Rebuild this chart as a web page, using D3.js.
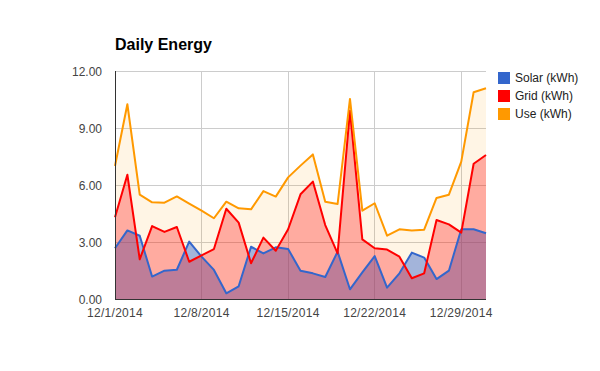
<!DOCTYPE html>
<html><head><meta charset="utf-8">
<script src="https://cdn.jsdelivr.net/npm/d3@7"></script>
<style>body{margin:0;background:#fff}svg{display:block}text{font-family:"Liberation Sans",Arial,sans-serif}</style>
</head><body><svg id="c" width="600" height="371"></svg>
<script>
const dates = ["2014-12-01","2014-12-02","2014-12-03","2014-12-04","2014-12-05","2014-12-06","2014-12-07","2014-12-08","2014-12-09","2014-12-10","2014-12-11","2014-12-12","2014-12-13","2014-12-14","2014-12-15","2014-12-16","2014-12-17","2014-12-18","2014-12-19","2014-12-20","2014-12-21","2014-12-22","2014-12-23","2014-12-24","2014-12-25","2014-12-26","2014-12-27","2014-12-28","2014-12-29","2014-12-30","2014-12-31"];
const solar = [2.67,3.61,3.33,1.18,1.49,1.54,3.02,2.23,1.53,0.30,0.67,2.75,2.40,2.72,2.63,1.49,1.35,1.16,2.49,0.51,1.40,2.26,0.60,1.35,2.44,2.18,1.05,1.49,3.67,3.67,3.46];
const grid  = [4.30,6.54,2.09,3.84,3.53,3.79,1.96,2.30,2.63,4.75,4.02,1.88,3.23,2.54,3.67,5.51,6.18,3.89,2.40,9.91,3.14,2.67,2.60,2.23,1.09,1.35,4.16,3.93,3.49,7.12,7.58];
const use   = [7.00,10.25,5.49,5.09,5.07,5.40,5.02,4.65,4.25,5.12,4.77,4.72,5.68,5.39,6.40,7.02,7.61,5.12,5.00,10.53,4.65,5.04,3.33,3.67,3.61,3.65,5.32,5.49,7.23,10.88,11.09];
const seriesNames = ["Solar (kWh)","Grid (kWh)","Use (kWh)"];
const yTicks = [0,3,6,9,12];
const xTickDates = ["2014-12-01","2014-12-08","2014-12-15","2014-12-22","2014-12-29"];

const parse = d3.timeParse("%Y-%m-%d");
const D = dates.map(parse);
const svg = d3.select("#c");
const L=115,R=486,T=71,B=299;
const x = d3.scaleTime().domain([D[0],D[D.length-1]]).range([L,R]);
const y = d3.scaleLinear().domain([0,12]).range([B,T]);
const fmt = d3.timeFormat("%-m/%-d/%Y");

// gridlines
const g = svg.append("g");
g.selectAll(".hg").data(yTicks).enter().append("line")
  .attr("x1",L).attr("x2",R).attr("y1",d=>y(d)).attr("y2",d=>y(d))
  .attr("stroke","#cccccc").attr("stroke-width",1).attr("shape-rendering","crispEdges");
g.selectAll(".vg").data(xTickDates.map(parse)).enter().append("line")
  .attr("x1",d=>x(d)).attr("x2",d=>x(d)).attr("y1",T).attr("y2",B)
  .attr("stroke","#cccccc").attr("stroke-width",1).attr("shape-rendering","crispEdges");

const series = [
  {vals:use, color:"#ff9900", op:0.1},
  {vals:solar, color:"#3366cc", op:0.45},
  {vals:grid, color:"#ff0000", op:0.3}
];
const area = v => d3.area().x((d,i)=>x(D[i])).y0(y(0)).y1(d=>y(d))(v);
const line = v => d3.line().x((d,i)=>x(D[i])).y(d=>y(d))(v);
series.forEach(s=>{
  svg.append("path").attr("d",area(s.vals)).attr("fill",s.color).attr("fill-opacity",s.op);
});
[{vals:solar,color:"#3366cc"},{vals:grid,color:"#ff0000"},{vals:use,color:"#ff9900"}].forEach(s=>{
  svg.append("path").attr("d",line(s.vals)).attr("fill","none").attr("stroke",s.color).attr("stroke-width",2).attr("stroke-linejoin","round");
});

// axes lines
svg.append("line").attr("x1",L).attr("x2",L).attr("y1",T).attr("y2",B+1).attr("stroke","#333").attr("stroke-width",1).attr("shape-rendering","crispEdges");
svg.append("line").attr("x1",L).attr("x2",R).attr("y1",B).attr("y2",B).attr("stroke","#333").attr("stroke-width",1).attr("shape-rendering","crispEdges");

// y labels
svg.selectAll(".yl").data(yTicks).enter().append("text")
  .attr("x",102).attr("y",d=>y(d)+4.5).attr("text-anchor","end")
  .attr("font-size",12).attr("fill","#444").text(d=>d3.format(".2f")(d));
// x labels
svg.selectAll(".xl").data(xTickDates.map(parse)).enter().append("text")
  .attr("x",d=>x(d)).attr("y",317).attr("text-anchor","middle")
  .attr("font-size",12).attr("fill","#444").attr("letter-spacing",0.3).text(d=>fmt(d));

// title
svg.append("text").attr("x",115).attr("y",50).attr("font-size",16).attr("font-weight","bold").attr("fill","#000").text("Daily Energy");

// legend
const legColors = ["#3366cc","#ff0000","#ff9900"];
const lg = svg.append("g");
seriesNames.forEach((n,i)=>{
  lg.append("rect").attr("x",498).attr("y",72+i*18).attr("width",12).attr("height",12).attr("fill",legColors[i]);
  lg.append("text").attr("x",515).attr("y",82+i*18).attr("font-size",12).attr("fill","#222").text(n);
});
</script></body></html>
